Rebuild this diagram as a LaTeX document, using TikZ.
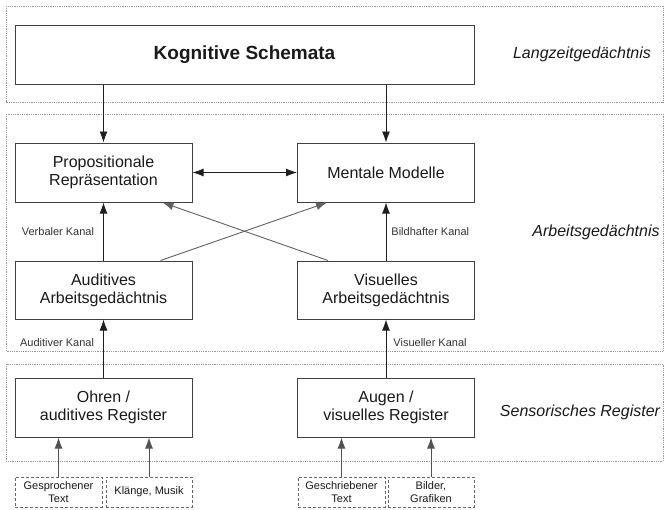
\documentclass[tikz,border=0pt]{standalone}
\usepackage{fontspec}
\setmainfont{Liberation Sans}
\usepackage{tikz}
\usetikzlibrary{arrows.meta}

\begin{document}
\begin{tikzpicture}[->,>={Latex[length=11pt,width=8pt]},x=1pt,y=-1pt,
                    line width=0.9pt,draw=black!88]
\tikzstyle{every node}=[font=\fontsize{16}{18}\selectfont,inner sep=0pt,text=black!90]
\tikzstyle{box}=[draw=black!75,line width=1pt,minimum width=177pt,minimum height=59pt,align=center]
\tikzstyle{src}=[draw=black!60,dash pattern=on 3pt off 2pt,line width=0.9pt,minimum width=87pt,
                 minimum height=30pt,align=center,font=\fontsize{11}{13}\selectfont]
\tikzstyle{kanal}=[font=\fontsize{11}{13}\selectfont,text=black!80]
\tikzstyle{ebene}=[font=\fontsize{16}{18}\selectfont\itshape]
\tikzstyle{layer}=[-,draw=black!40,densely dotted,line width=0.8pt]
\useasboundingbox (0,0) rectangle (664,509);

% Ebenen
\draw[layer] (6,6) rectangle (663,102);
\draw[layer] (6,114) rectangle (663,351);
\draw[layer] (6,364) rectangle (663,461);
\node[ebene] (lzg) at (582,54) {Langzeitgedächtnis};
\node[ebene] (agd) at (596,232) {Arbeitsgedächtnis};
\node[ebene] (sreg) at (580,412) {Sensorisches Register};

\node[box,minimum width=459pt,font=\fontsize{19}{22}\selectfont\bfseries] (ks) at (244.5,54.5) {Kognitive Schemata};
\node[box] (prop) at (103.5,172.5) {Propositionale\\Repräsentation};
\node[box] (mm) at (386,172.5) {Mentale Modelle};
\node[box,minimum height=58pt] (aud) at (103.5,290) {Auditives\\Arbeitsgedächtnis};
\node[box,minimum height=58pt] (vis) at (386,290) {Visuelles\\Arbeitsgedächtnis};
\node[box] (ohr) at (103.5,407.5) {Ohren /\\auditives Register};
\node[box] (aug) at (386,407.5) {Augen /\\visuelles Register};
\node[src] (gt) at (58.5,492) {Gesprochener\\Text};
\node[src,minimum width=86pt] (km) at (149,492) {Klänge, Musik};
\node[src] (st) at (341.5,492) {Geschriebener\\Text};
\node[src,minimum width=86pt] (bg) at (431,492) {Bilder,\\Grafiken};

\path (prop |- ks.south) edge (prop.north)
      (mm |- ks.south) edge (mm.north)
      (prop) edge[<->] (mm)
      (aud) edge node[kanal,left=9pt] {Verbaler Kanal} (prop)
      (vis) edge node[kanal,right=5pt] {Bildhafter Kanal} (mm)
      ([xshift=-32pt]aud.north east) edge[draw=black!62] ([xshift=30pt]mm.south west)
      ([xshift=31pt]vis.north west) edge[draw=black!62] ([xshift=-30pt]prop.south east)
      (ohr) edge node[kanal,pos=0.6,left=9pt] {Auditiver Kanal} (aud)
      (aug) edge node[kanal,pos=0.6,right=7pt] {Visueller Kanal} (vis)
      (gt) edge[draw=black!68] (gt |- ohr.south)
      (km) edge[draw=black!68] (km |- ohr.south)
      (st) edge[draw=black!68] (st |- aug.south)
      (bg) edge[draw=black!68] (bg |- aug.south);

\end{tikzpicture}
\end{document}
